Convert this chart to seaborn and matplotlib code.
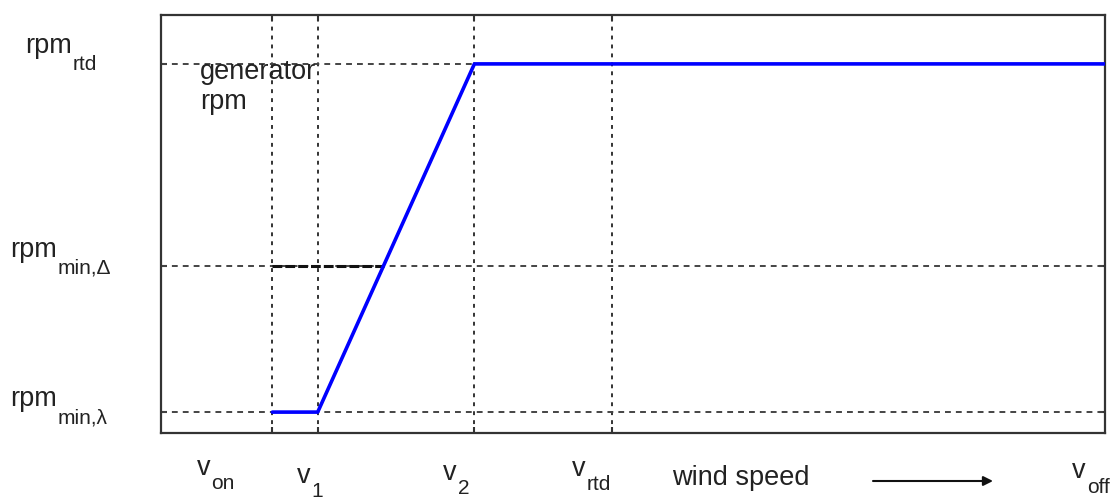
import numpy as np
import matplotlib
matplotlib.use("Agg")
import matplotlib.pyplot as plt
import seaborn as sns

# ---- data (arbitrary units) ----
wind_names = ["on", "1", "2", "rtd"]
wind_speed = [11.8, 16.6, 33.2, 47.8]          # v_on, v1, v2, v_rtd
v_off = 100.0
rpm_names = ["rtd", "min,\u0394", "min,\u03bb"]
rpm_levels = [88.3, 40.0, 5.0]                  # rpm_rtd, rpm_min,Δ, rpm_min,λ

curve_v = [11.8, 16.6, 33.2, 100.0]
curve_rpm = [5.0, 5.0, 88.3, 88.3]

# ---- layout (figure pixels, origin bottom-left) ----
H = 500
x_label_pos = [(197, H - 475), (297, H - 483), (443, H - 480), (572, H - 476)]
v_off_pos = (1072, H - 478)
y_label_pos = [(25, H - 53), (10, H - 257), (10, H - 406)]

sns.set_theme(style="white")
plt.rcParams["font.family"] = ["Liberation Sans", "DejaVu Sans"]

TXT = "#222222"
BASE_FS = 19.5
SUB_FS = 15

fig = plt.figure(figsize=(11.15, 5.0), dpi=100)
ax = fig.add_axes([161 / 1115, 67 / 500, 944 / 1115, 418 / 500])
ax.set_xlim(0, 100)
ax.set_ylim(0, 100)

# grid lines
for v in wind_speed:
    ax.axvline(v, color="#333333", lw=1.4, ls=(0, (2.0, 2.6)), zorder=1)
for r in rpm_levels:
    ax.axhline(r, color="#444444", lw=1.4, ls=(0, (3.0, 2.6)), zorder=1)

# darker dashed segment at rpm_min,Δ from v_on to the ramp
x_int = float(np.interp(rpm_levels[1], curve_rpm[1:3], curve_v[1:3]))
ax.plot([wind_speed[0], x_int], [rpm_levels[1], rpm_levels[1]],
        color="#111111", lw=2.2, ls=(0, (3.2, 1.0)), zorder=2)

# generator rpm curve
sns.lineplot(x=curve_v, y=curve_rpm, ax=ax, color="#0000ff", lw=2.6,
             estimator=None, sort=False, zorder=3)

ax.set_xticks(wind_speed)
ax.set_yticks(rpm_levels)
ax.tick_params(direction="in", length=4, width=1.5, colors="#333333",
               top=True, bottom=True, left=True, right=True,
               labelbottom=False, labelleft=False)
for s in ax.spines.values():
    s.set_color("#333333")
    s.set_linewidth(1.6)
ax.set_xlabel("")
ax.set_ylabel("")

def sub_label(pos, base, sub, drop):
    b = ax.annotate(base, xy=pos, xycoords="figure pixels", fontsize=BASE_FS,
                    color=TXT, ha="left", va="baseline", annotation_clip=False)
    ax.annotate(sub, xy=(1, 0), xycoords=b, xytext=(1, -(drop - 6)),
                textcoords="offset pixels", fontsize=SUB_FS, color=TXT,
                ha="left", va="baseline", annotation_clip=False)

for pos, name in zip(x_label_pos, wind_names):
    sub_label(pos, "v", name, 14)
sub_label(v_off_pos, "v", "off", 15)
for pos, name in zip(y_label_pos, rpm_names):
    sub_label(pos, "rpm", name, 17)

ax.annotate("generator\nrpm", xy=(200, H - 109), xycoords="figure pixels",
            fontsize=BASE_FS, color=TXT, ha="left", va="baseline",
            linespacing=1.2, annotation_clip=False)

ax.annotate("wind speed", xy=(672, H - 485), xycoords="figure pixels",
            fontsize=BASE_FS, color=TXT, ha="left", va="baseline",
            annotation_clip=False)
ax.annotate("", xy=(993, H - 481), xytext=(873, H - 481),
            xycoords="figure pixels", textcoords="figure pixels",
            arrowprops=dict(arrowstyle="-|>", color="#111111", lw=1.5,
                            mutation_scale=14, shrinkA=0, shrinkB=0),
            annotation_clip=False)

fig.savefig("out.png", dpi=100)
